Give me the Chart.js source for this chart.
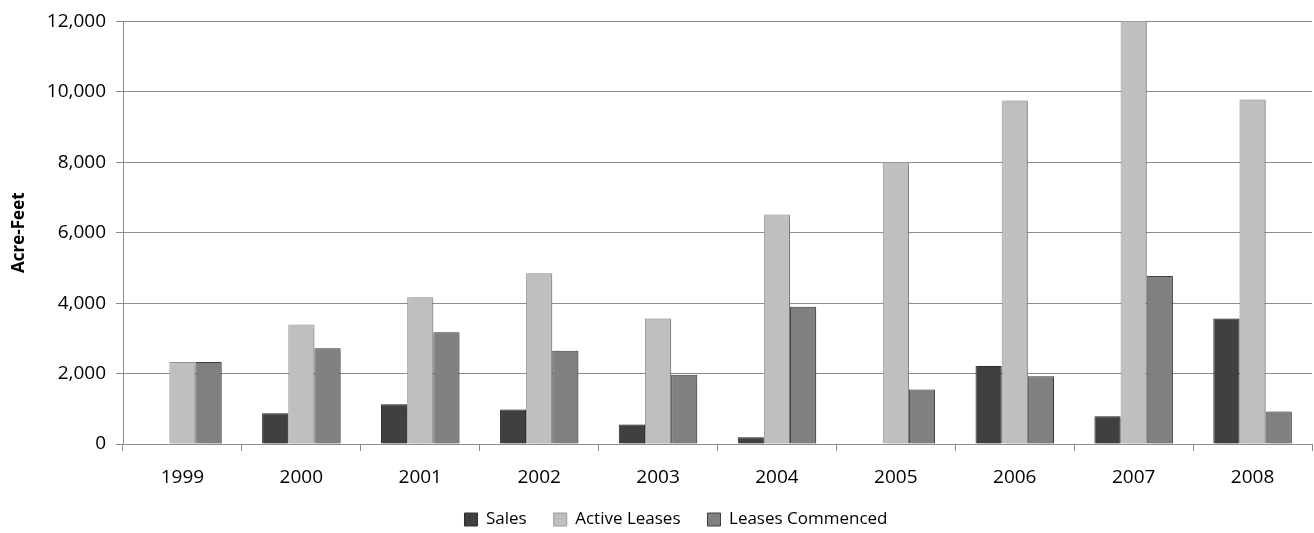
<!DOCTYPE html>
<html>
<head>
<meta charset="utf-8">
<script src="https://cdn.jsdelivr.net/npm/chart.js@4.4.0/dist/chart.umd.min.js"></script>
<style>
  html, body { margin: 0; padding: 0; background: #fff; }
  #wrap { width: 1314px; height: 533px; position: relative; }
</style>
</head>
<body>
<div id="wrap"><canvas id="waterChart"></canvas></div>
<script>
// values (acre-feet)
const years = ['1999', '2000', '2001', '2002', '2003', '2004', '2005', '2006', '2007', '2008'];
const sales = [0, 875, 1130, 980, 555, 190, 0, 2215, 790, 3565];
const activeLeases = [2325, 3390, 4170, 4850, 3565, 6515, 8010, 9755, 12200, 9785];
const leasesCommenced = [2325, 2720, 3170, 2645, 1965, 3895, 1545, 1925, 4770, 925];
const yTicks = [0, 2000, 4000, 6000, 8000, 10000, 12000];

const gridGray = '#8c8c8c';

// soft drop shadow under the bars
const barShadow = {
  id: 'barShadow',
  beforeDatasetsDraw(chart) {
    const ctx = chart.ctx;
    ctx.save();
    ctx.shadowColor = 'rgba(0, 0, 0, 0.3)';
    ctx.shadowBlur = 3;
    ctx.shadowOffsetX = 2;
    ctx.shadowOffsetY = 1;
  },
  afterDatasetsDraw(chart) {
    chart.ctx.restore();
  }
};

// nudge legend to where the reference has it
const legendShift = {
  id: 'legendShift',
  afterLayout(chart) {
    const lg = chart.legend;
    if (!lg) return;
    const dx = 20, dy = -5;
    lg.left += dx; lg.right += dx;
    lg.top += dy; lg.bottom += dy;
  }
};

const ctx = document.getElementById('waterChart').getContext('2d');
const waterChart = new Chart(ctx, {
  type: 'bar',
  data: {
    labels: years,
    datasets: [
      {
        label: 'Sales',
        data: sales,
        backgroundColor: '#404040',
        borderColor: '#2e2e2e',
        borderWidth: 1
      },
      {
        label: 'Active Leases',
        data: activeLeases,
        backgroundColor: '#bfbfbf',
        borderColor: '#999999',
        borderWidth: 1
      },
      {
        label: 'Leases Commenced',
        data: leasesCommenced,
        backgroundColor: '#808080',
        borderColor: '#404040',
        borderWidth: 1
      }
    ]
  },
  plugins: [barShadow, legendShift],
  options: {
    responsive: true,
    maintainAspectRatio: false,
    animation: false,
    layout: {
      padding: { top: 19, right: 2, left: 0, bottom: 0 }
    },
    barPercentage: 1,
    categoryPercentage: 0.66,
    scales: {
      x: {
        grid: {
          display: true,
          drawOnChartArea: false,
          drawTicks: true,
          tickLength: 7,
          color: gridGray
        },
        border: { display: true, color: gridGray },
        ticks: {
          color: '#000',
          padding: 15,
          font: { family: 'Open Sans', size: 19 }
        },
        afterFit(scale) { scale.height = 45; }
      },
      y: {
        min: 0,
        max: 12000,
        afterBuildTicks(scale) {
          scale.ticks = yTicks.map(v => ({ value: v }));
        },
        grid: {
          color: gridGray,
          tickLength: 7
        },
        border: { display: true, color: gridGray },
        ticks: {
          color: '#000',
          padding: 10,
          font: { family: 'Open Sans', size: 19 },
          callback: v => v.toLocaleString('en-US')
        },
        title: {
          display: true,
          text: 'Acre-Feet',
          color: '#000',
          font: { family: 'Open Sans', size: 17, weight: 'bold' },
          padding: { top: 9, bottom: 0 }
        },
        afterFit(scale) { scale.width = 123; }
      }
    },
    plugins: {
      legend: {
        position: 'bottom',
        maxHeight: 44,
        labels: {
          color: '#000',
          boxWidth: 13,
          boxHeight: 13,
          padding: 27,
          font: { family: 'Open Sans', size: 17 }
        }
      },
      tooltip: { enabled: false }
    }
  }
});
</script>
</body>
</html>
